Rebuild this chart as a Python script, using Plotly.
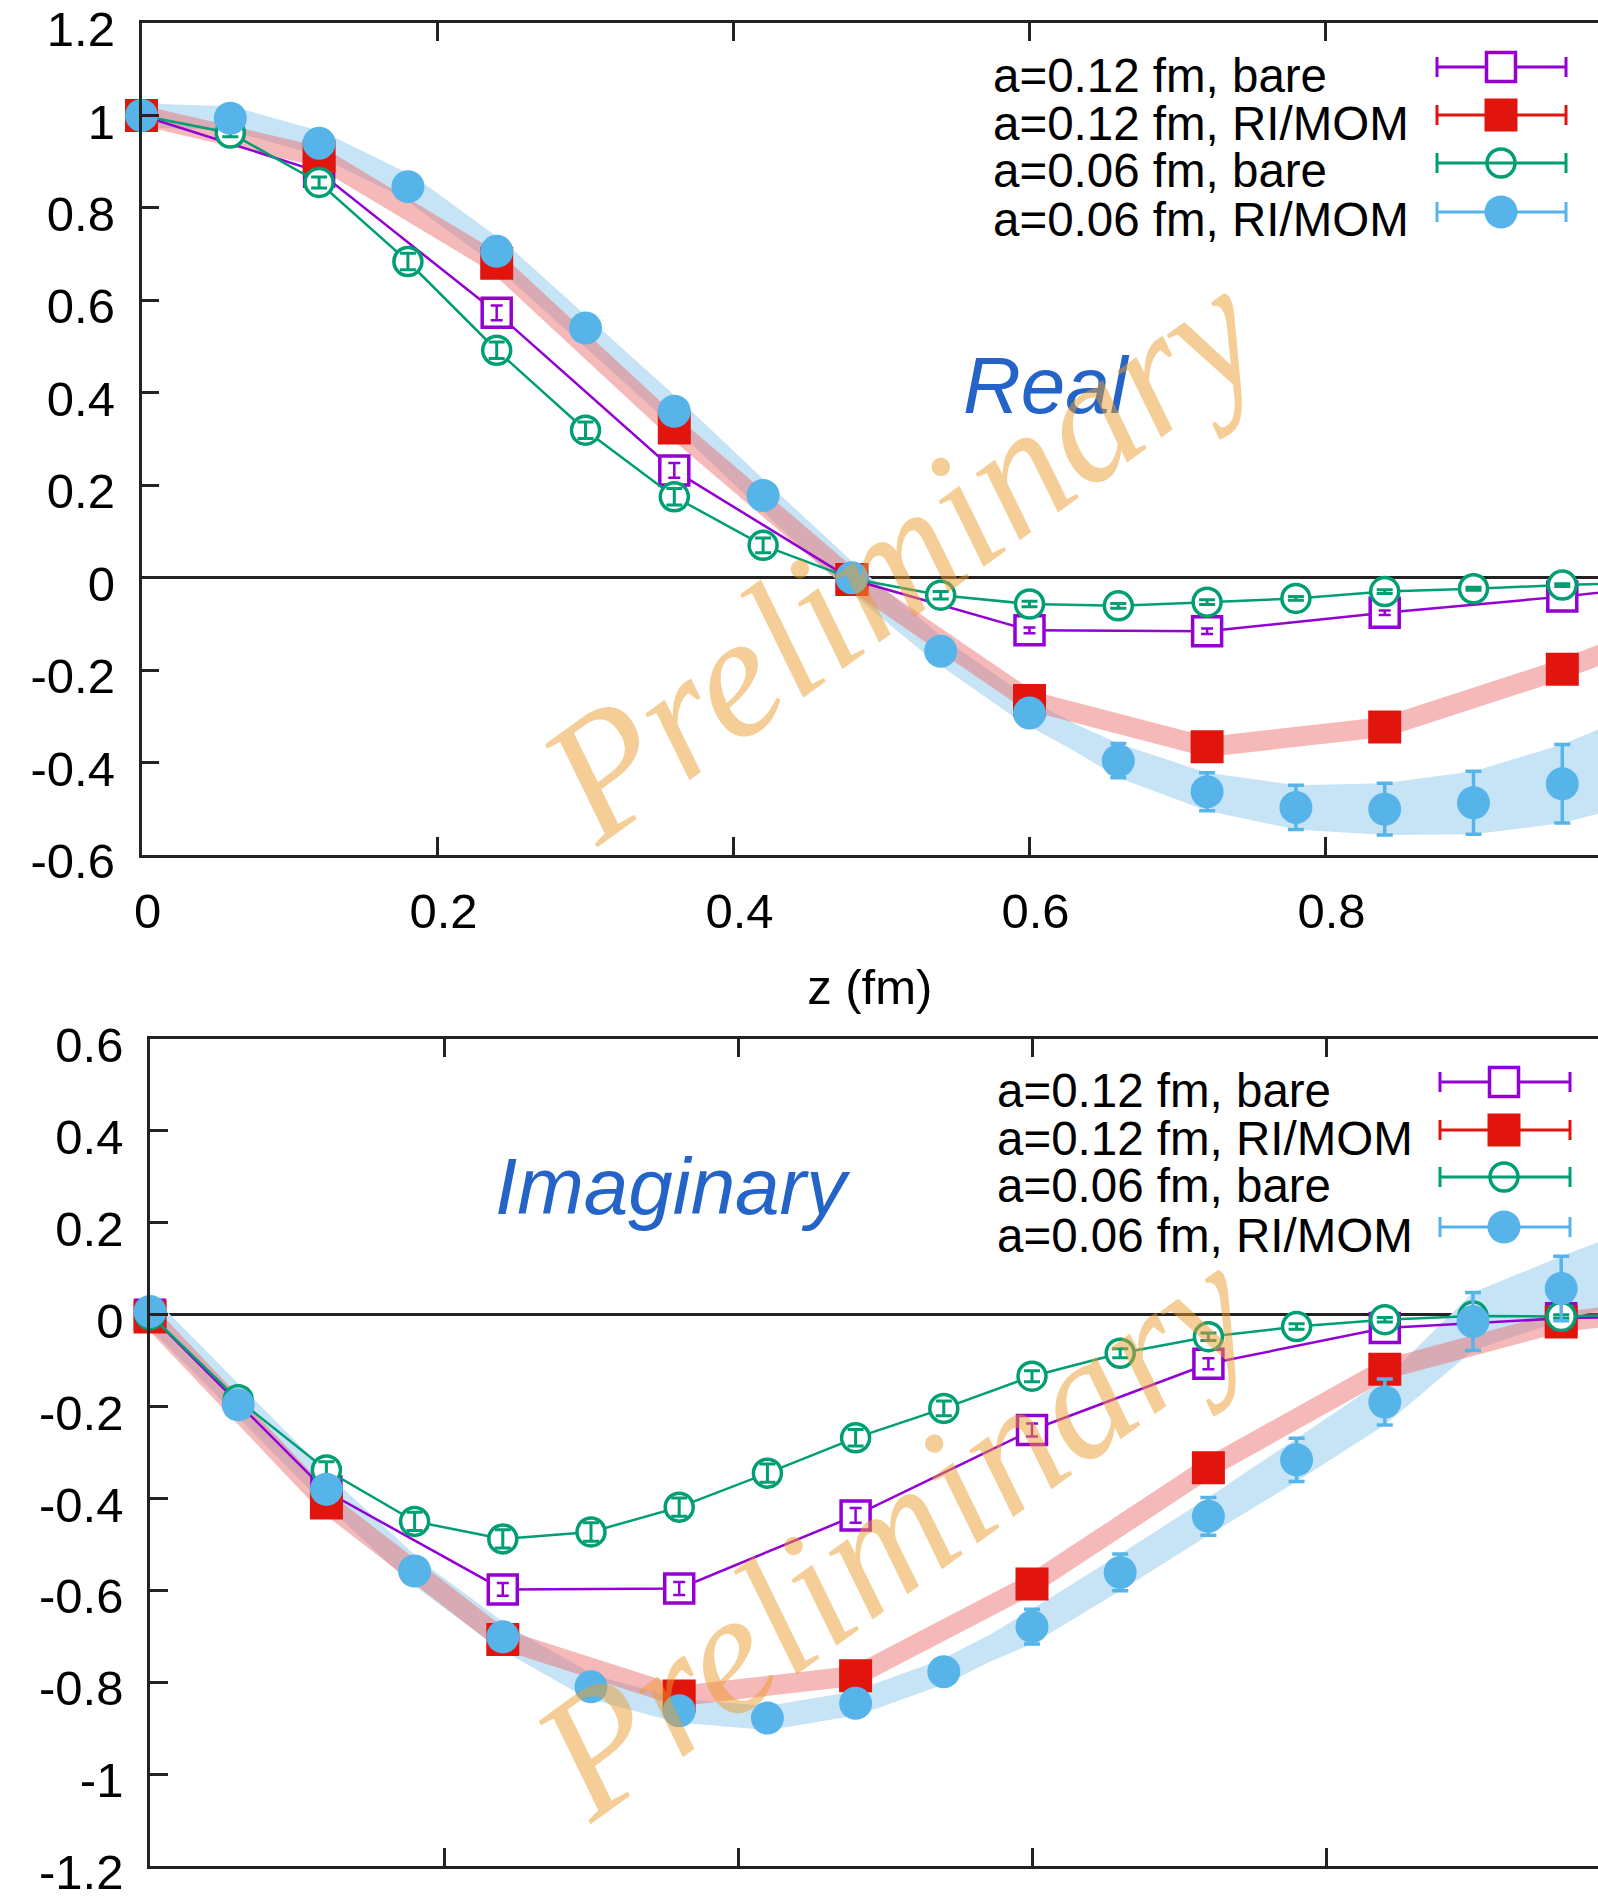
import plotly.graph_objects as go

W, H = 1598, 1897

# ---------------- data ----------------
z_a12 = [0.0, 0.12, 0.24, 0.36, 0.48, 0.60, 0.72, 0.84, 0.96, 1.08]
z_a06 = [0.0, 0.06, 0.12, 0.18, 0.24, 0.30, 0.36, 0.42, 0.48, 0.54,
         0.60, 0.66, 0.72, 0.78, 0.84, 0.90, 0.96, 1.02]

series_names = ["a=0.12 fm, bare", "a=0.12 fm, RI/MOM",
                "a=0.06 fm, bare", "a=0.06 fm, RI/MOM"]

# Real part
re_a12_bare = [1.0, 0.878, 0.573, 0.232, -0.004, -0.114, -0.116, -0.076, -0.041, 0.0]
re_a12_bare_err = [0.0, 0.010, 0.016, 0.016, 0.010, 0.006, 0.006, 0.005, 0.004, 0.004]
re_a12_ri = [1.0, 0.911, 0.680, 0.324, -0.004, -0.266, -0.366, -0.323, -0.198, -0.05]
re_a12_ri_err = [0.0, 0.004, 0.006, 0.008, 0.008, 0.010, 0.012, 0.014, 0.016, 0.018]
re_a06_bare = [1.0, 0.962, 0.855, 0.684, 0.492, 0.319, 0.175, 0.070, -0.002, -0.038,
               -0.057, -0.061, -0.053, -0.045, -0.030, -0.024, -0.016, -0.010]
re_a06_bare_err = [0.0, 0.008, 0.012, 0.018, 0.018, 0.018, 0.018, 0.016, 0.012, 0.008,
                   0.006, 0.005, 0.005, 0.004, 0.004, 0.003, 0.003, 0.003]
re_a06_ri = [1.0, 0.994, 0.940, 0.846, 0.706, 0.540, 0.360, 0.178, 0.0, -0.159,
             -0.293, -0.396, -0.463, -0.497, -0.501, -0.487, -0.446, -0.380]
re_a06_ri_err = [0.0, 0.003, 0.004, 0.005, 0.006, 0.007, 0.008, 0.010, 0.012, 0.015,
                 0.022, 0.037, 0.041, 0.048, 0.056, 0.068, 0.085, 0.100]

# Imaginary part
im_a12_bare = [0.0, -0.385, -0.598, -0.596, -0.437, -0.251, -0.107, -0.029, -0.008, 0.0]
im_a12_bare_err = [0.0, 0.010, 0.014, 0.014, 0.016, 0.014, 0.012, 0.008, 0.006, 0.006]
im_a12_ri = [-0.005, -0.410, -0.707, -0.830, -0.786, -0.586, -0.333, -0.119, -0.016, 0.03]
im_a12_ri_err = [0.0, 0.004, 0.006, 0.008, 0.010, 0.012, 0.014, 0.016, 0.018, 0.020]
im_a06_bare = [0.0, -0.185, -0.338, -0.450, -0.488, -0.473, -0.419, -0.345, -0.268, -0.204,
               -0.134, -0.084, -0.048, -0.026, -0.011, -0.003, -0.004, 0.0]
im_a06_bare_err = [0.0, 0.010, 0.018, 0.020, 0.020, 0.020, 0.020, 0.020, 0.018, 0.016,
                   0.012, 0.010, 0.008, 0.006, 0.005, 0.004, 0.004, 0.004]
im_a06_ri = [0.007, -0.196, -0.380, -0.558, -0.701, -0.810, -0.862, -0.878, -0.846, -0.777,
             -0.679, -0.561, -0.439, -0.316, -0.190, -0.015, 0.057, 0.120]
im_a06_ri_err = [0.002, 0.004, 0.006, 0.008, 0.010, 0.012, 0.014, 0.015, 0.016, 0.020,
                 0.038, 0.040, 0.041, 0.047, 0.050, 0.063, 0.070, 0.080]

x_tickvals = [0.0, 0.2, 0.4, 0.6, 0.8]
x_ticktext = ["0", "0.2", "0.4", "0.6", "0.8"]
re_tickvals = [-0.6, -0.4, -0.2, 0.0, 0.2, 0.4, 0.6, 0.8, 1.0, 1.2]
re_ticktext = ["-0.6", "-0.4", "-0.2", "0", "0.2", "0.4", "0.6", "0.8", "1", "1.2"]
im_tickvals = [-1.2, -1.0, -0.8, -0.6, -0.4, -0.2, 0.0, 0.2, 0.4, 0.6]
im_ticktext = ["-1.2", "-1", "-0.8", "-0.6", "-0.4", "-0.2", "0", "0.2", "0.4", "0.6"]

# ---------------- style ----------------
PURPLE = "#9400d3"
RED = "#e2150e"
GREEN = "#009e73"
BLUE = "#56b4e9"
BLUE_BAND = "rgb(198,228,246)"
RED_BAND = "rgba(236,100,100,0.45)"
AXIS = "#222222"
FONT = "Liberation Sans, Arial, Helvetica, sans-serif"
TXT = 49


def px_x(p):
    return p / W


def px_y(p):
    return 1 - p / H


fig = go.Figure()


def add_panel(xa, ya, a12_bare, a12_bare_err, a12_ri, a12_ri_err,
              a06_bare, a06_bare_err, a06_ri, a06_ri_err):
    common = dict(xaxis=xa, yaxis=ya, showlegend=False, hoverinfo="skip")
    lo = [v - e for v, e in zip(a06_ri, a06_ri_err)]
    hi = [v + e for v, e in zip(a06_ri, a06_ri_err)]
    # blue band (error band + thick line)
    fig.add_trace(go.Scatter(x=z_a06, y=lo, mode="lines", line=dict(width=0, color=BLUE_BAND), **common))
    fig.add_trace(go.Scatter(x=z_a06, y=hi, mode="lines", line=dict(width=0, color=BLUE_BAND),
                             fill="tonexty", fillcolor=BLUE_BAND, **common))
    fig.add_trace(go.Scatter(x=z_a06, y=a06_ri, mode="lines",
                             line=dict(width=24, color=BLUE_BAND), **common))
    # red band
    fig.add_trace(go.Scatter(x=z_a12, y=a12_ri, mode="lines",
                             line=dict(width=20, color=RED_BAND), **common))
    # purple: a=0.12 bare
    fig.add_trace(go.Scatter(x=z_a12, y=a12_bare, mode="lines+markers", cliponaxis=False,
                             name=series_names[0],
                             line=dict(width=2.5, color=PURPLE),
                             marker=dict(symbol="square", size=29, color="white",
                                         line=dict(width=3.5, color=PURPLE)), **common))
    fig.add_trace(go.Scatter(x=z_a12, y=a12_bare, mode="markers", cliponaxis=False,
                             marker=dict(size=1, color="rgba(0,0,0,0)"),
                             error_y=dict(type="data", array=a12_bare_err, color=PURPLE,
                                          thickness=2.5, width=6), **common))
    # red: a=0.12 RI/MOM
    fig.add_trace(go.Scatter(x=z_a12, y=a12_ri, mode="markers", cliponaxis=False,
                             name=series_names[1],
                             marker=dict(symbol="square", size=33, color=RED, line=dict(width=0)),
                             error_y=dict(type="data", array=a12_ri_err, color=RED,
                                          thickness=3, width=8), **common))
    # green: a=0.06 bare
    fig.add_trace(go.Scatter(x=z_a06, y=a06_bare, mode="lines+markers", cliponaxis=False,
                             name=series_names[2],
                             line=dict(width=2.5, color=GREEN),
                             marker=dict(symbol="circle", size=28, color="white",
                                         line=dict(width=3.5, color=GREEN)), **common))
    fig.add_trace(go.Scatter(x=z_a06, y=a06_bare, mode="markers", cliponaxis=False,
                             marker=dict(size=1, color="rgba(0,0,0,0)"),
                             error_y=dict(type="data", array=a06_bare_err, color=GREEN,
                                          thickness=3, width=8), **common))
    # blue: a=0.06 RI/MOM
    fig.add_trace(go.Scatter(x=z_a06, y=a06_ri, mode="markers", cliponaxis=False,
                             name=series_names[3],
                             marker=dict(symbol="circle", size=33, color=BLUE, line=dict(width=0)),
                             error_y=dict(type="data", array=a06_ri_err, color=BLUE,
                                          thickness=3.5, width=8), **common))


add_panel("x", "y", re_a12_bare, re_a12_bare_err, re_a12_ri, re_a12_ri_err,
          re_a06_bare, re_a06_bare_err, re_a06_ri, re_a06_ri_err)
add_panel("x2", "y2", im_a12_bare, im_a12_bare_err, im_a12_ri, im_a12_ri_err,
          im_a06_bare, im_a06_bare_err, im_a06_ri, im_a06_ri_err)


# ---------------- axes ----------------
def xaxis_style(domain, rng, anchor, show_labels, title=None):
    d = dict(domain=domain, range=rng, anchor=anchor, tickvals=x_tickvals, ticktext=x_ticktext,
             ticks="inside", ticklen=18, tickwidth=2.5, tickcolor=AXIS,
             showline=True, linecolor=AXIS, linewidth=2.5, mirror="ticks",
             showgrid=False, zeroline=False, showticklabels=show_labels, automargin=False,
             tickfont=dict(family=FONT, size=TXT, color="black"),
             ticklabelstandoff=11, ticklabelshift=6, ticklabeloverflow="allow")
    if title:
        d["title"] = dict(text=title, font=dict(family=FONT, size=TXT, color="black"), standoff=34)
    return d


def yaxis_style(domain, rng, anchor, vals, text):
    return dict(domain=domain, range=rng, anchor=anchor, tickvals=vals, ticktext=text,
                ticks="inside", ticklen=18, tickwidth=2.5, tickcolor=AXIS,
                showline=True, linecolor=AXIS, linewidth=2.5, mirror=False,
                showgrid=False, zeroline=True, zerolinecolor=AXIS, zerolinewidth=2.5,
                automargin=False, ticklabeloverflow="allow",
                tickfont=dict(family=FONT, size=TXT, color="black"),
                ticklabelstandoff=14, ticklabelshift=6)


top_dom_y = [px_y(855), px_y(23)]
bot_dom_y = [px_y(1866), px_y(1039)]

fig.update_layout(
    width=W, height=H, autosize=False,
    margin=dict(l=0, r=0, t=0, b=0, pad=0),
    paper_bgcolor="white", plot_bgcolor="white",
    showlegend=False,
    xaxis=xaxis_style([px_x(141.5), 1.0], [0, (W - 141.5) / 1480], "y", True, "z (fm)"),
    yaxis=yaxis_style(top_dom_y, [-0.6, 1.2], "x", re_tickvals, re_ticktext),
    xaxis2=xaxis_style([px_x(150), 1.0], [0, (W - 150) / 1470], "y2", False),
    yaxis2=yaxis_style(bot_dom_y, [-1.2, 0.6], "x2", im_tickvals, im_ticktext),
)

# ---------------- legends (gnuplot style: text left-justified, symbol right) ----------------
shapes = []
annotations = []
styles = [("sq_open", PURPLE), ("sq_fill", RED), ("ci_open", GREEN), ("ci_fill", BLUE)]


def draw_legend(rows, text_left, x_left, x_right, x_mark, text_dy):
    for (kind, col), name, y in zip(styles, series_names, rows):
        shapes.append(dict(type="line", xref="paper", yref="paper",
                           x0=px_x(x_left), x1=px_x(x_right), y0=px_y(y), y1=px_y(y),
                           line=dict(color=col, width=3)))
        for xx in (x_left, x_right):
            shapes.append(dict(type="line", xref="paper", yref="paper",
                               x0=px_x(xx), x1=px_x(xx), y0=px_y(y - 10), y1=px_y(y + 10),
                               line=dict(color=col, width=3)))
        if kind == "sq_open":
            r = 14.5
            shapes.append(dict(type="rect", xref="paper", yref="paper",
                               x0=px_x(x_mark - r), x1=px_x(x_mark + r),
                               y0=px_y(y + r), y1=px_y(y - r),
                               fillcolor="white", line=dict(color=col, width=3.5)))
        elif kind == "sq_fill":
            r = 16.5
            shapes.append(dict(type="rect", xref="paper", yref="paper",
                               x0=px_x(x_mark - r), x1=px_x(x_mark + r),
                               y0=px_y(y + r), y1=px_y(y - r),
                               fillcolor=col, line=dict(width=0)))
        elif kind == "ci_open":
            r = 14
            shapes.append(dict(type="circle", xref="paper", yref="paper",
                               x0=px_x(x_mark - r), x1=px_x(x_mark + r),
                               y0=px_y(y + r), y1=px_y(y - r),
                               line=dict(color=col, width=3.5)))
        else:
            r = 16.5
            shapes.append(dict(type="circle", xref="paper", yref="paper",
                               x0=px_x(x_mark - r), x1=px_x(x_mark + r),
                               y0=px_y(y + r), y1=px_y(y - r),
                               fillcolor=col, line=dict(width=0)))
        annotations.append(dict(xref="paper", yref="paper", x=px_x(text_left), y=px_y(y + text_dy),
                                xanchor="left", yanchor="middle", showarrow=False, text=name,
                                font=dict(family=FONT, size=47.5, color="black")))


draw_legend([67, 115, 163, 212], 991, 1437, 1566, 1501, 8)
draw_legend([1082, 1130, 1177, 1227], 995, 1440, 1570, 1504, 8)

# panel labels
annotations.append(dict(xref="paper", yref="paper", x=px_x(1046), y=px_y(386),
                        xanchor="center", yanchor="middle", showarrow=False,
                        text="<i>Real</i>", font=dict(family=FONT, size=80, color="#2464c8")))
annotations.append(dict(xref="paper", yref="paper", x=px_x(673), y=px_y(1186),
                        xanchor="center", yanchor="middle", showarrow=False,
                        text="<i>Imaginary</i>", font=dict(family=FONT, size=80, color="#2464c8")))

# watermarks
for cx, cy in [(901, 555), (894, 1531)]:
    annotations.append(dict(xref="paper", yref="paper", x=px_x(cx), y=px_y(cy),
                            xanchor="center", yanchor="middle", showarrow=False,
                            textangle=-36, text="<i>Preliminary</i>",
                            font=dict(family="Liberation Serif, Times New Roman, serif",
                                      size=174, color="rgba(235,155,45,0.5)")))

fig.update_layout(shapes=shapes, annotations=annotations)

fig.write_html("out.html")
